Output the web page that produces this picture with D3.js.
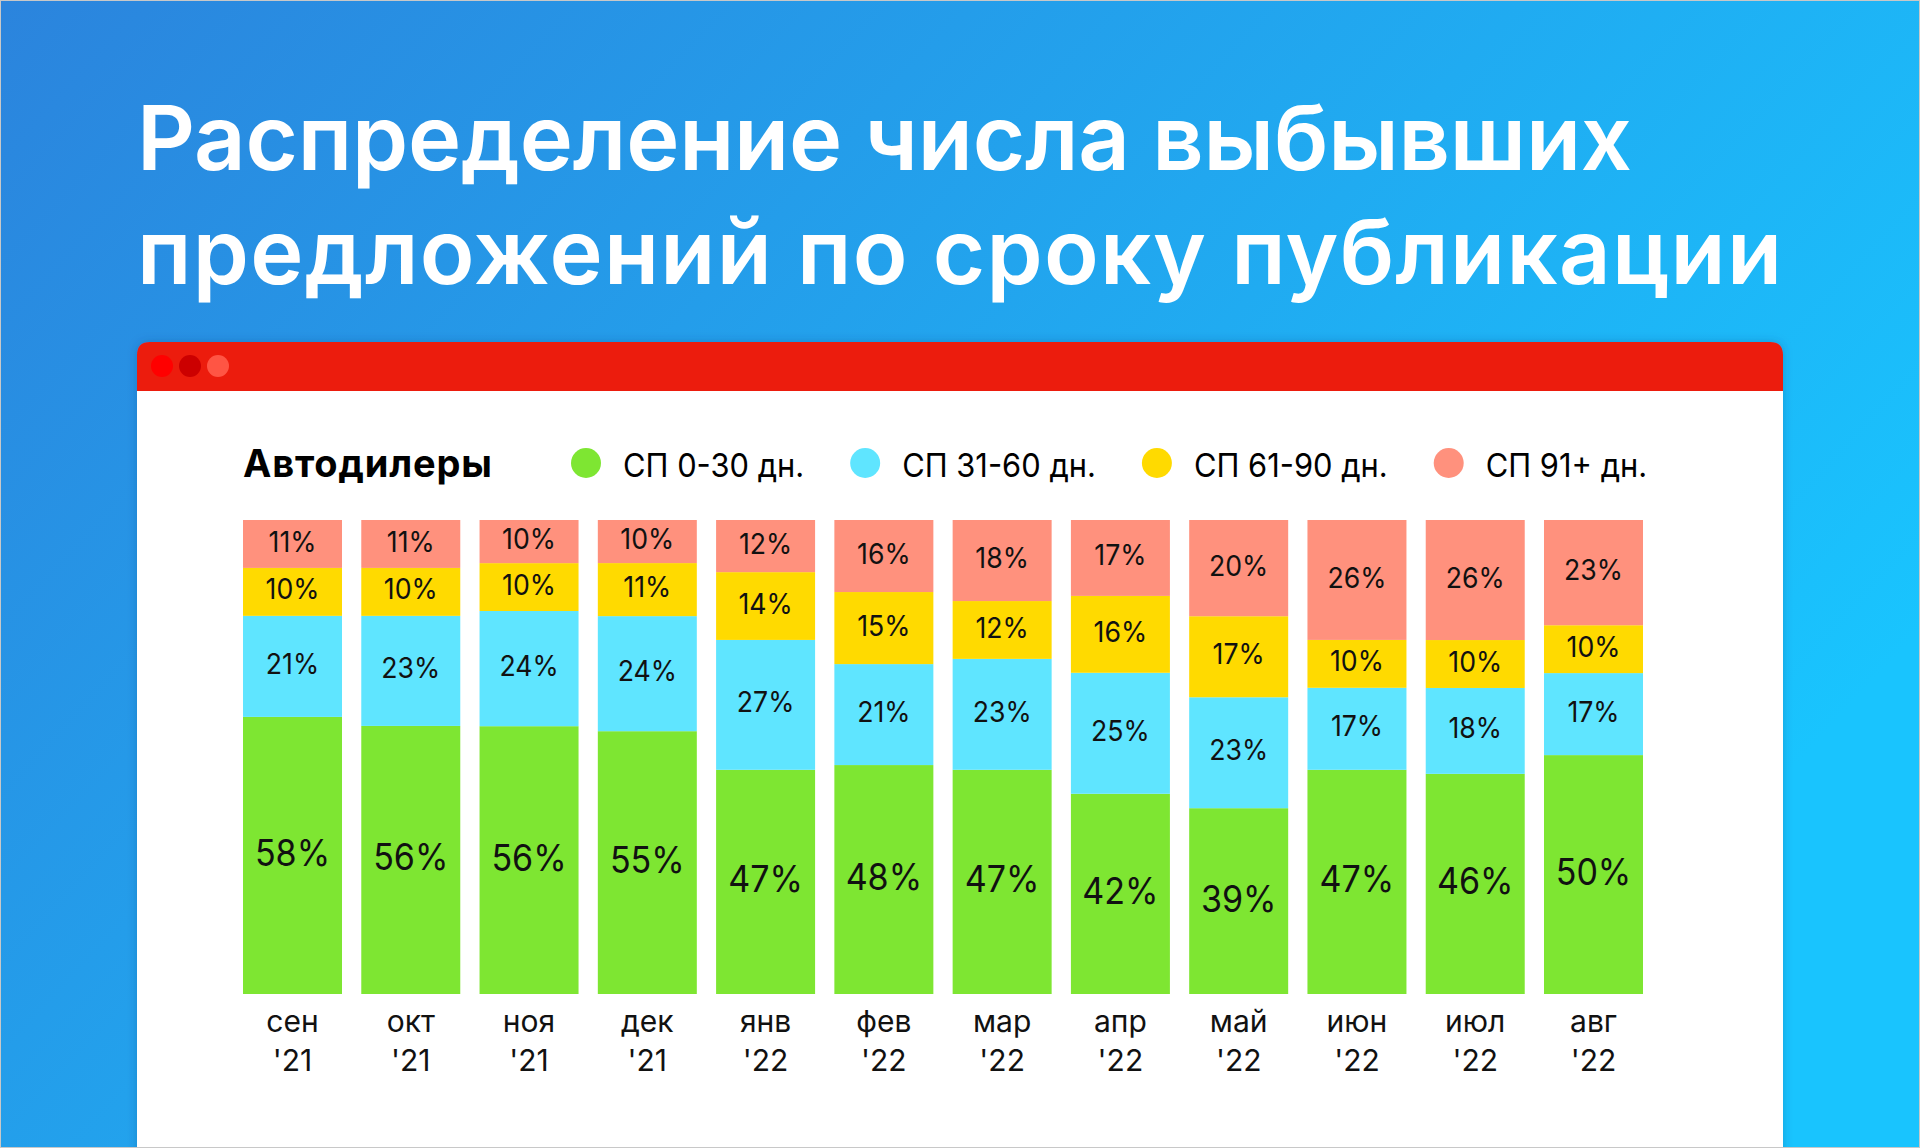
<!DOCTYPE html>
<html>
<head>
<meta charset="utf-8">
<script src="https://cdn.jsdelivr.net/npm/d3@7"></script>
<style>
  body { margin: 0; background: #fff; }
  svg { display: block; font-family: Inter, "Noto Sans", sans-serif; }
</style>
</head>
<body>
<svg id="chart" width="1920" height="1148"></svg>
<script>
// months and years under the bars
var months = ["сен","окт","ноя","дек","янв","фев","мар","апр","май","июн","июл","авг"];
var years  = ["'21","'21","'21","'21","'22","'22","'22","'22","'22","'22","'22","'22"];

// legend
var seriesNames  = ["СП 0-30 дн.","СП 31-60 дн.","СП 61-90 дн.","СП 91+ дн."];
var seriesColors = ["#7ee632","#5fe5ff","#ffda00","#ff917d"];

// segment shares as measured from the bars (%)
var share0_30  = [58.4,56.5,56.5,55.5,47.3,48.3,47.3,42.2,39.2,47.3,46.4,50.4];
var share31_60 = [21.3,23.2,24.3,24.3,27.4,21.3,23.4,25.5,23.4,17.3,18.1,17.3];
var share61_90 = [10.1,10.1,10.1,11.2,14.3,15.2,12.2,16.2,17.1,10.1,10.1,10.1];
var share91    = [10.1,10.1, 9.1, 9.1,11.0,15.2,17.1,16.0,20.3,25.3,25.3,22.2];

// printed labels (%)
var label0_30  = [58,56,56,55,47,48,47,42,39,47,46,50];
var label31_60 = [21,23,24,24,27,21,23,25,23,17,18,17];
var label61_90 = [10,10,10,11,14,15,12,16,17,10,10,10];
var label91    = [11,11,10,10,12,16,18,17,20,26,26,23];

var shares = [share0_30, share31_60, share61_90, share91];
var labels = [label0_30, label31_60, label61_90, label91];

var svg = d3.select("#chart");
var W = 1920, H = 1148;

// background gradient + shadow
var defs = svg.append("defs");
var grad = defs.append("linearGradient").attr("id","bg")
  .attr("x1",0).attr("y1",0).attr("x2",1).attr("y2",0.55);
grad.append("stop").attr("offset",0).attr("stop-color","#2b84dd");
grad.append("stop").attr("offset",1).attr("stop-color","#19c4fe");
var sh = defs.append("filter").attr("id","shadow")
  .attr("x","-5%").attr("y","-5%").attr("width","110%").attr("height","110%");
sh.append("feDropShadow").attr("dx",0).attr("dy",0).attr("stdDeviation",5)
  .attr("flood-color","#0a3d80").attr("flood-opacity",0.3);

svg.append("rect").attr("width",W).attr("height",H).attr("fill","url(#bg)");

// title
var titleLines = ["Распределение числа выбывших","предложений по сроку публикации"];
var titleWidth = [1495, 1645];
svg.selectAll("text.title").data(titleLines).join("text")
  .attr("class","title")
  .attr("x",137)
  .attr("y",function(d,i){return i ? 284 : 170;})
  .attr("fill","#fff")
  .attr("font-size",90)
  .attr("font-weight",600)
  .attr("textLength",function(d,i){return titleWidth[i];})
  .attr("lengthAdjust","spacing")
  .text(function(d){return d;});

// window card
var cx0 = 137, cx1 = 1783, cy0 = 342, head = 49, rr = 13;
var card = svg.append("g").attr("filter","url(#shadow)");
card.append("rect").attr("x",cx0).attr("y",cy0+head).attr("width",cx1-cx0).attr("height",H-cy0-head+20)
  .attr("fill","#fff");
card.append("path")
  .attr("d","M"+cx0+","+(cy0+head)+"V"+(cy0+rr)+"Q"+cx0+","+cy0+" "+(cx0+rr)+","+cy0+
            "H"+(cx1-rr)+"Q"+cx1+","+cy0+" "+cx1+","+(cy0+rr)+"V"+(cy0+head)+"Z")
  .attr("fill","#ec1d0f");
svg.selectAll("circle.dot").data(["#ff0000","#cc0000","#ff5544"]).join("circle")
  .attr("class","dot")
  .attr("cx",function(d,i){return 162+i*28;})
  .attr("cy",366).attr("r",11)
  .attr("fill",function(d){return d;});

// legend
svg.append("text").attr("x",243).attr("y",477)
  .attr("font-size",38).attr("font-weight",700).attr("fill","#000")
  .attr("textLength",249).attr("lengthAdjust","spacing")
  .text("Автодилеры");

// the source font is narrower than Inter: squeeze each legend text a little
var lx = 586;
seriesNames.forEach(function(name,i){
  svg.append("circle").attr("cx",lx).attr("cy",463).attr("r",15).attr("fill",seriesColors[i]);
  var t = svg.append("text").attr("x",lx+37).attr("y",477)
    .attr("font-size",33).attr("fill","#000").text(name);
  var w = t.node().getComputedTextLength() * 0.935;
  t.attr("textLength",w).attr("lengthAdjust","spacingAndGlyphs");
  lx = lx + 37 + w + 61;
});

// stacked bars
var rows = months.map(function(m,j){
  var r = {month:m, idx:j};
  seriesNames.forEach(function(s,i){ r[s] = shares[i][j]; });
  return r;
});
var stack = d3.stack().keys(seriesNames).offset(d3.stackOffsetExpand);
var layers = stack(rows);

var x = d3.scaleBand().domain(months).range([243,1643]).paddingInner(0.163).paddingOuter(0);
var y = d3.scaleLinear().domain([0,1]).range([994,520]);

var g = svg.append("g");
var layer = g.selectAll("g.layer").data(layers).join("g")
  .attr("class","layer")
  .attr("fill",function(d,i){return seriesColors[i];});
layer.selectAll("rect").data(function(d){return d;}).join("rect")
  .attr("x",function(d){return x(d.data.month);})
  .attr("width",x.bandwidth())
  .attr("y",function(d){return y(d[1]);})
  .attr("height",function(d){return y(d[0])-y(d[1]);});

// value labels
layers.forEach(function(L,i){
  var fs = i === 0 ? 37 : 29;
  g.selectAll("text.v"+i).data(L).join("text")
    .attr("class","v"+i)
    .attr("x",function(d){return x(d.data.month)+x.bandwidth()/2;})
    .attr("y",function(d){return (y(d[0])+y(d[1]))/2 + fs*0.727/2 - 3;})
    .attr("text-anchor","middle")
    .attr("font-size",fs)
    .attr("fill","#111")
    .text(function(d){return labels[i][d.data.idx]+"%";})
    .each(function(){
      var w = this.getComputedTextLength() * 0.92;
      d3.select(this).attr("textLength",w).attr("lengthAdjust","spacingAndGlyphs");
    });
});

// category axis (two lines, no ticks)
var xAxis = svg.append("g").attr("transform","translate(0,994)")
  .call(d3.axisBottom(x).tickSize(0).tickPadding(0).tickFormat(""));
xAxis.select(".domain").remove();
xAxis.selectAll(".tick").each(function(d,j){
  var tk = d3.select(this);
  tk.append("text").attr("y",38).attr("text-anchor","middle")
    .attr("font-size",30).attr("fill","#111").attr("font-family","Inter, sans-serif").text(months[j]);
  tk.append("text").attr("y",77).attr("text-anchor","middle")
    .attr("font-size",30).attr("fill","#111").attr("font-family","Inter, sans-serif").text(years[j]);
});

// thin frame round the picture
svg.append("rect").attr("x",0.5).attr("y",0.5).attr("width",W-1).attr("height",H-1)
  .attr("fill","none").attr("stroke","#c8c8c8").attr("stroke-width",1);
</script>
</body>
</html>
